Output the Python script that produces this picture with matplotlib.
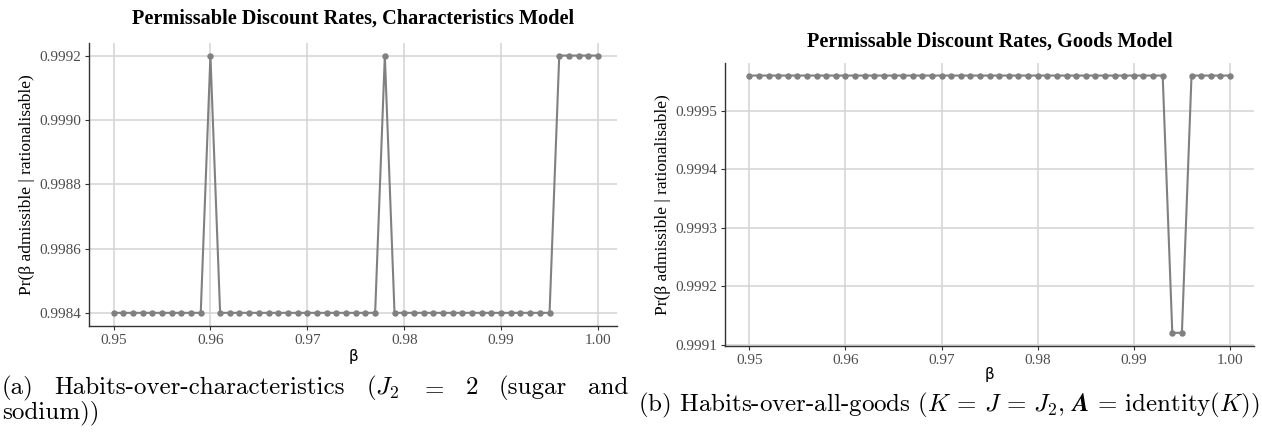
import numpy as np
import matplotlib
matplotlib.use("Agg")
import matplotlib.pyplot as plt

plt.rcParams['mathtext.fontset'] = 'cm'

# ---- data ----
beta = [round(0.950 + 0.001 * i, 3) for i in range(51)]
high_a = [0.960, 0.978, 0.996, 0.997, 0.998, 0.999, 1.000]
pr_char = [0.9992 if b in high_a else 0.9984 for b in beta]
low_b = [0.994, 0.995]
pr_goods = [0.99912 if b in low_b else 0.99956 for b in beta]

xticks = [0.95, 0.96, 0.97, 0.98, 0.99, 1.00]
xticklabels = ["0.95", "0.96", "0.97", "0.98", "0.99", "1.00"]
yticks_a = [0.9984, 0.9986, 0.9988, 0.9990, 0.9992]
yticks_b = [0.9991, 0.9992, 0.9993, 0.9994, 0.9995]

title_a = "Permissable Discount Rates, Characteristics Model"
title_b = "Permissable Discount Rates, Goods Model"
ylabel = "Pr(β admissible | rationalisable)"
xlabel = "β"

W, H = 1262, 432
fig = plt.figure(figsize=(W / 100, H / 100), dpi=100)

def ax_at(x0, y0, x1, y1):
    return fig.add_axes([x0 / W, 1 - y1 / H, (x1 - x0) / W, (y1 - y0) / H])

serif = ['Liberation Serif', 'DejaVu Serif']
grid_c = '#d3d3d3'
line_c = '#808080'

def style(ax, yt, ylab_fmt):
    for s in ['top', 'right']:
        ax.spines[s].set_visible(False)
    for s in ['left', 'bottom']:
        ax.spines[s].set_color('#333333')
        ax.spines[s].set_linewidth(1.0)
    ax.set_xticks(xticks)
    ax.set_xticklabels(xticklabels, fontfamily=serif, fontsize=11, color='#4d4d4d')
    ax.set_yticks(yt)
    ax.set_yticklabels([ylab_fmt % v for v in yt], fontfamily=serif, fontsize=11, color='#4d4d4d')
    ax.tick_params(axis='both', length=3, width=0.8, color='#333333', pad=3)
    ax.grid(True, color=grid_c, linewidth=1.1)
    ax.set_axisbelow(True)
    ax.set_facecolor('white')

# Panel (a)
axa = ax_at(89.3, 42.7, 617, 325.7)
axa.plot(beta, pr_char, color=line_c, lw=1.5, marker='o', ms=3.6, zorder=3)
axa.set_xlim(0.9475, 1.00196)
axa.set_ylim(0.99836, 0.99924)
style(axa, yticks_a, "%.4f")
axa.set_ylabel(ylabel, fontfamily=serif, fontsize=12.5, labelpad=3)
fig.text((89.3 + 617) / 2 / W, 1 - 356 / H, xlabel, ha='center', va='center',
         fontfamily='DejaVu Sans', fontsize=11)
fig.text((89.3 + 617) / 2 / W, 1 - 19 / H, title_a, ha='center', va='center',
         fontfamily=serif, fontweight='bold', fontsize=14.6)

# Panel (b)
axb = ax_at(725.3, 62.7, 1254, 345.7)
axb.plot(beta, pr_goods, color=line_c, lw=1.5, marker='o', ms=3.6, zorder=3)
axb.set_xlim(0.9475, 1.0025)
axb.set_ylim(0.999098, 0.999582)
style(axb, yticks_b, "%.4f")
axb.set_ylabel(ylabel, fontfamily=serif, fontsize=12.5, labelpad=3)
fig.text((725.3 + 1254) / 2 / W, 1 - 375 / H, xlabel, ha='center', va='center',
         fontfamily='DejaVu Sans', fontsize=11)
fig.text((725.3 + 1254) / 2 / W, 1 - 42 / H, title_b, ha='center', va='center',
         fontfamily=serif, fontweight='bold', fontsize=14.6)

# Captions
cap_fs = 18
cap_font = 'cmr10'
tokens = ["(a)", "Habits-over-characteristics", "($J_2$", "$=$", "2", "(sugar", "and"]
fig.canvas.draw()
r = fig.canvas.get_renderer()
txts = []
for t in tokens:
    tt = fig.text(0, 1 - 388 / H, t, ha='left', va='center', fontfamily=cap_font, fontsize=cap_fs)
    txts.append(tt)
widths = [tt.get_window_extent(r).width for tt in txts]
x_left, x_right = 2, 628
gap = (x_right - x_left - sum(widths)) / (len(tokens) - 1)
x = x_left
for tt, w in zip(txts, widths):
    tt.set_x(x / W)
    x += w + gap
fig.text(2 / W, 1 - 413 / H, "sodium))", ha='left', va='center', fontfamily=cap_font, fontsize=cap_fs)
cap_b = fig.text(638 / W, 1 - 405 / H,
                 r"(b) Habits-over-all-goods ($K\,=\,J\,=\,J_2$, $\boldsymbol{A}\,=\,\mathrm{identity}(K)$)",
                 ha='left', va='center', fontfamily=cap_font, fontsize=cap_fs)
# shrink if it would overflow the right edge
wb = cap_b.get_window_extent(r).width
if 638 + wb > W - 2:
    cap_b.set_fontsize(cap_fs * (W - 2 - 638) / wb)

fig.savefig("out.png", dpi=100, facecolor='white')
